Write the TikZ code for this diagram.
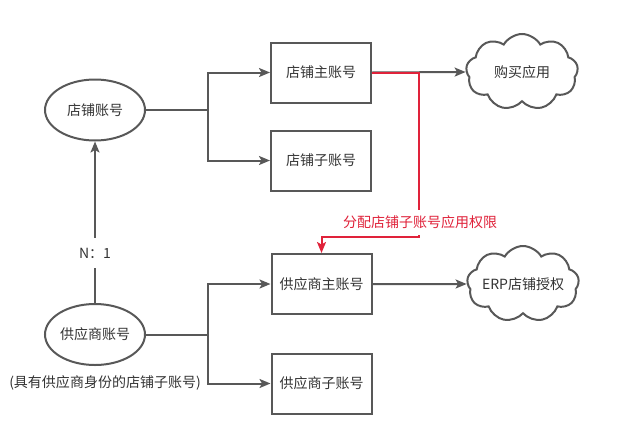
\documentclass[tikz,border=0pt]{standalone}
\usepackage{fontspec}
\newfontfamily\cjk{Noto Sans CJK SC}
\usetikzlibrary{arrows.meta,shapes.geometric,shapes.symbols}
\definecolor{linegray}{RGB}{88,88,88}
\definecolor{textgray}{RGB}{51,51,51}
\definecolor{authred}{RGB}{224,34,58}
\tikzset{
  diag/.style={x=1pt,y=-1pt,font=\cjk\fontsize{14}{16}\selectfont,text=textgray},
  acct/.style={ellipse,draw=linegray,line width=2pt,inner sep=0pt,minimum width=100pt,minimum height=61pt},
  box/.style={draw=linegray,line width=2pt,inner sep=0pt,minimum width=100pt,minimum height=60pt},
  app/.style={cloud,cloud puffs=9,cloud puff arc=120,aspect=1.5,draw=linegray,line width=2pt,
    inner xsep=-12pt,inner ysep=0pt,minimum width=112pt,minimum height=76pt},
  link/.style={draw=linegray,line width=2pt},
  flow/.style={link,-{Stealth[length=11pt,width=9pt,inset=2.5pt]}},
  grant/.style={draw=authred,line width=2pt,-{Stealth[length=11pt,width=9pt,inset=2.5pt]}},
  tag/.style={fill=white,inner sep=0pt},
}

\begin{document}
\begin{tikzpicture}[diag]
\useasboundingbox (0,0) rectangle (620,426);
\node[acct] (shop) at (95,110) {店铺账号};
\node[box] (shopmain) at (321,72.5) {店铺主账号};
\node[box] (shopsub) at (321,160.5) {店铺子账号};
\node[app] (buy) at (522,72) {购买应用};
\node[acct] (supp) at (95,334.5) {供应商账号};
\node[box] (suppmain) at (321.5,284) {供应商主账号};
\node[box] (suppsub) at (321.5,383.5) {供应商子账号};
\node[app] (erp) at (523,284) {ERP店铺授权};
\node (suppnote) at (105,383) {(具有供应商身份的店铺子账号)};
\coordinate (shopfork) at (208,110);
\coordinate (suppfork) at (208,334.5);
\coordinate (redturn) at (419,237);
\draw[link] (shop.east) -- (shopfork);
\draw[flow] (shopfork) |- (shopmain.west);
\draw[flow] (shopfork) |- (shopsub.west);
\draw[link] (supp.east) -- (suppfork);
\draw[flow] (suppfork) |- (suppmain.west);
\draw[flow] (suppfork) |- (suppsub.west);
\draw[flow] (supp.north) -- node[tag,pos=0.31,minimum height=30pt] (ratio) {N：1} (shop.south);
\draw[flow] (shopmain.east) -- (buy.west);
\draw[flow] (suppmain.east) -- (erp.west);
\draw[grant] (shopmain.east) -| (redturn) -| (suppmain.north);
\node[tag,text=authred,minimum height=25pt] (grantlbl) at (420,222.5) {分配店铺子账号应用权限};
\end{tikzpicture}
\end{document}
